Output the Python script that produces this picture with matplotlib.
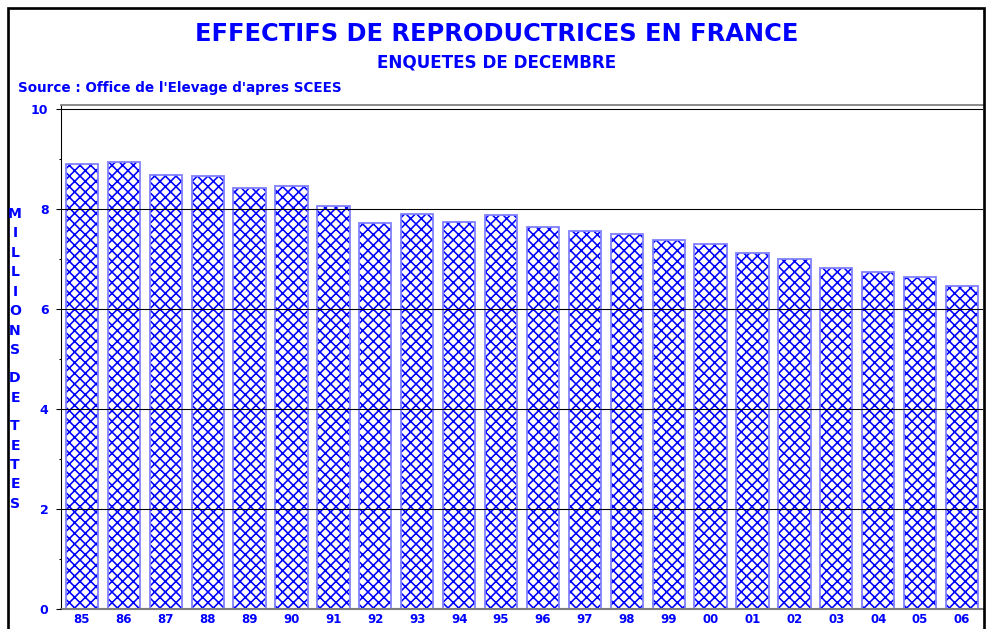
import matplotlib
matplotlib.use("Agg")
import matplotlib.pyplot as plt
from matplotlib.patches import Rectangle

# Donnees (millions de tetes, enquetes de decembre)
annees = ["85", "86", "87", "88", "89", "90", "91", "92", "93", "94", "95",
          "96", "97", "98", "99", "00", "01", "02", "03", "04", "05", "06"]
effectifs = [8.90, 8.95, 8.69, 8.66, 8.43, 8.47, 8.07, 7.73, 7.91, 7.75, 7.88,
             7.64, 7.57, 7.50, 7.39, 7.31, 7.13, 7.01, 6.83, 6.75, 6.65, 6.46]
yticks = [0, 2, 4, 6, 8, 10]

BLEU = "#0000ff"
DPI = 128

plt.rcParams["font.family"] = ["DejaVu Sans"]
plt.rcParams["font.weight"] = "bold"
plt.rcParams["hatch.linewidth"] = 0.9

fig = plt.figure(figsize=(988 / DPI, 629 / DPI), dpi=DPI)
ax = fig.add_axes([61 / 988, 20 / 629, 922 / 988, 504.3 / 629])

x = list(range(len(annees)))
# remplissage hachure puis contour bleu clair
ax.bar(x, effectifs, width=0.77, facecolor="white", edgecolor=BLEU,
       hatch="xxxx", linewidth=0, zorder=1)
ax.bar(x, effectifs, width=0.77, facecolor="none", edgecolor="#8080ff",
       linewidth=1.0, zorder=1.1)

ax.set_xlim(-0.5, len(annees) - 0.5)
ax.set_ylim(0, 10.086)
ax.set_xticks(x)
ax.set_xticklabels(annees)
ax.set_yticks(yticks)
ax.set_yticks([1, 3, 5, 7, 9], minor=True)
ax.tick_params(axis="x", length=0, pad=2.5, labelsize=6.6, labelcolor=BLEU)
ax.tick_params(axis="y", which="major", length=3, width=0.6, pad=4,
               labelsize=7.0, labelcolor=BLEU)
ax.tick_params(axis="y", which="minor", length=1.2, width=0.6)

ax.grid(axis="y", color="black", linewidth=0.6)
ax.set_axisbelow(False)

ax.spines["left"].set_linewidth(0.6)
ax.spines["bottom"].set_color("#808080")
ax.spines["bottom"].set_linewidth(1.2)
ax.spines["top"].set_color("#808080")
ax.spines["top"].set_linewidth(1.0)
ax.spines["right"].set_visible(False)

# titres
fig.text(497 / 988, 1 - 34 / 629, "EFFECTIFS DE REPRODUCTRICES EN FRANCE",
         ha="center", va="center", color=BLEU, fontsize=13.6, fontweight="bold")
fig.text(497 / 988, 1 - 63 / 629, "ENQUETES DE DECEMBRE",
         ha="center", va="center", color=BLEU, fontsize=9.4, fontweight="bold")
fig.text(18 / 988, 1 - 88 / 629, "Source : Office de l'Elevage d'apres SCEES",
         ha="left", va="center", color=BLEU, fontsize=7.6, fontweight="bold")

# libelle vertical
for mot, y0 in [("MILLIONS", 213), ("DE", 377), ("TETES", 425)]:
    fig.text(15 / 988, 1 - (y0 - 6) / 629, "\n".join(mot), ha="center",
             va="top", color=BLEU, fontsize=7.9, fontweight="bold",
             linespacing=1.5)

# cadre de la figure
fig.patches.append(Rectangle((7.5 / 988, -0.05), 976 / 988, 1.05 - 8 / 629,
                             transform=fig.transFigure, fill=False,
                             edgecolor="black", linewidth=1.5))

fig.savefig("out.png", dpi=DPI)
